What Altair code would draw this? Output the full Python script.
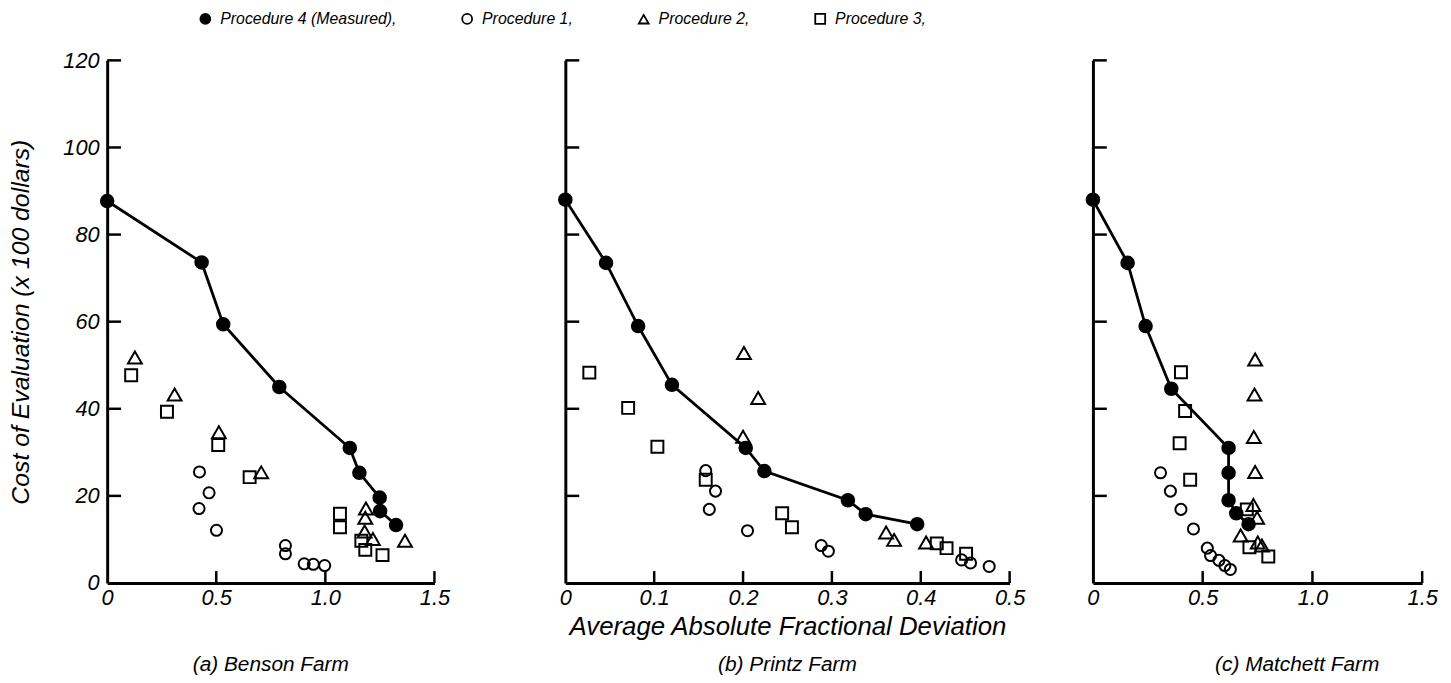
import altair as alt
import pandas as pd

PROCS = ["Procedure 4 (Measured),", "Procedure 1,", "Procedure 2,", "Procedure 3,"]
SHAPES = ["circle", "circle", "triangle-up", "square"]
FILLS = ["black", "transparent", "transparent", "transparent"]
STROKES = ["black", "black", "black", "black"]
SIZES = [160, 125, 195, 145]
FONT = "Liberation Sans, Arial, sans-serif"

# (a) Benson Farm
a_p4_x = [0.0, 0.433, 0.532, 0.789, 1.112, 1.156, 1.249, 1.251, 1.324]
a_p4_y = [87.7, 73.6, 59.4, 45.0, 31.0, 25.3, 19.6, 16.5, 13.3]
a_p1_x = [0.423, 0.467, 0.421, 0.501, 0.817, 0.817, 0.903, 0.945, 0.997]
a_p1_y = [25.5, 20.7, 17.1, 12.1, 8.6, 6.7, 4.4, 4.3, 4.0]
a_p2_x = [0.127, 0.309, 0.512, 0.706, 1.186, 1.183, 1.180, 1.218, 1.365]
a_p2_y = [51.8, 43.3, 34.6, 25.4, 17.1, 15.0, 11.8, 10.1, 9.7]
a_p3_x = [0.110, 0.274, 0.509, 0.653, 1.067, 1.067, 1.165, 1.183, 1.262]
a_p3_y = [47.7, 39.3, 31.7, 24.3, 15.9, 12.8, 9.7, 7.6, 6.4]

# (b) Printz Farm
b_p4_x = [0.0, 0.0458, 0.0819, 0.120, 0.203, 0.224, 0.318, 0.338, 0.396]
b_p4_y = [88.0, 73.5, 59.0, 45.5, 31.0, 25.7, 19.0, 15.8, 13.5]
b_p1_x = [0.158, 0.169, 0.162, 0.205, 0.288, 0.296, 0.446, 0.456, 0.477]
b_p1_y = [25.8, 21.1, 16.9, 12.0, 8.6, 7.3, 5.3, 4.6, 3.8]
b_p2_x = [0.201, 0.217, 0.200, 0.361, 0.370, 0.406]
b_p2_y = [52.8, 42.5, 33.6, 11.6, 9.9, 9.3]
b_p3_x = [0.027, 0.0707, 0.1036, 0.158, 0.244, 0.255, 0.418, 0.429, 0.451]
b_p3_y = [48.3, 40.2, 31.3, 23.7, 16.0, 12.8, 9.1, 8.0, 6.7]

# (c) Matchett Farm
c_p4_x = [0.0, 0.158, 0.240, 0.357, 0.618, 0.618, 0.618, 0.653, 0.709]
c_p4_y = [88.0, 73.5, 59.0, 44.6, 31.0, 25.3, 19.0, 16.0, 13.5]
c_p1_x = [0.308, 0.353, 0.401, 0.458, 0.521, 0.536, 0.574, 0.601, 0.626]
c_p1_y = [25.3, 21.1, 16.9, 12.4, 8.0, 6.3, 5.2, 4.0, 3.1]
c_p2_x = [0.739, 0.736, 0.733, 0.739, 0.731, 0.748, 0.673, 0.751, 0.770]
c_p2_y = [51.3, 43.3, 33.5, 25.5, 17.9, 15.0, 10.9, 9.3, 8.6]
c_p3_x = [0.401, 0.420, 0.395, 0.443, 0.701, 0.713, 0.799]
c_p3_y = [48.4, 39.5, 32.1, 23.7, 16.9, 8.2, 6.1]

Y_TICKS = [20, 40, 60, 80, 100, 120]
Y_LABELS = [0, 20, 40, 60, 80, 100, 120]
AB_TICKS = [0.5, 1.0, 1.5]
B_TICKS = [0.1, 0.2, 0.3, 0.4, 0.5]

H = 527


def frame(series):
    rows = []
    for proc, xs, ys in series:
        for i, (xv, yv) in enumerate(zip(xs, ys)):
            rows.append({"x": xv, "y": yv, "proc": proc, "i": i})
    return pd.DataFrame(rows)


LEG = alt.Legend(
    title=None, orient="none", legendX=91, legendY=-50,
    direction="horizontal", columns=4,
    labelFont=FONT, labelFontStyle="italic", labelFontSize=16, labelLimit=0,
    labelColor="black", labelOffset=7, columnPadding=62,
    symbolSize=100, symbolStrokeWidth=1.8,
)
SHAPE_SCALE = alt.Scale(domain=PROCS, range=SHAPES)
FILL_SCALE = alt.Scale(domain=PROCS, range=FILLS)
STROKE_SCALE = alt.Scale(domain=PROCS, range=STROKES)


def panel(series, xmax, xticks, width, show_ylabels, xtitle, caption, cap_dx):
    df = frame(series)
    xsc = alt.Scale(domain=[0, xmax], nice=False, zero=True)
    ysc = alt.Scale(domain=[0, 120], nice=False, zero=True)
    xaxis = alt.Axis(
        values=[0] + xticks,
        labelExpr="datum.value == 0 ? '0' : format(datum.value, '.1f')",
        title=xtitle,
        ticks=False, tickSize=0, grid=False,
        domainColor="black", domainWidth=3,
        labelFont=FONT, labelFontStyle="italic", labelFontSize=22,
        labelColor="black", labelPadding=5, labelFlush=False,
        titleFont=FONT, titleFontStyle="italic", titleFontWeight="normal",
        titleFontSize=26, titleColor="black", titlePadding=5,
    )
    if show_ylabels:
        yaxis = alt.Axis(
            values=Y_LABELS, title="Cost of Evaluation (x 100 dollars)",
            ticks=False, tickSize=0, grid=False,
            domainColor="black", domainWidth=3,
            labelFont=FONT, labelFontStyle="italic", labelFontSize=22,
            labelColor="black", labelPadding=8, labelFlush=False,
            titleFont=FONT, titleFontStyle="italic", titleFontWeight="normal",
            titleFontSize=25, titleColor="black", titlePadding=30,
        )
    else:
        yaxis = alt.Axis(
            values=Y_LABELS, title=None, labels=False,
            ticks=False, tickSize=0, grid=False,
            domainColor="black", domainWidth=3,
        )

    base = alt.Chart(df)
    line = base.transform_filter(alt.datum.proc == PROCS[0]).mark_line(
        color="black", strokeWidth=2.8
    ).encode(
        x=alt.X("x:Q", scale=xsc, axis=xaxis),
        y=alt.Y("y:Q", scale=ysc, axis=yaxis),
        order=alt.Order("i:Q"),
    )
    layers = []
    for k, proc in enumerate(PROCS):
        layers.append(
            base.transform_filter(alt.datum.proc == proc).mark_point(
                opacity=1, strokeWidth=2, size=SIZES[k]
            ).encode(
                x=alt.X("x:Q", scale=xsc, axis=xaxis),
                y=alt.Y("y:Q", scale=ysc, axis=yaxis),
                shape=alt.Shape("proc:N", scale=SHAPE_SCALE, legend=LEG),
                fill=alt.Fill("proc:N", scale=FILL_SCALE, legend=LEG),
                stroke=alt.Stroke("proc:N", scale=STROKE_SCALE, legend=LEG),
            )
        )
    yt = alt.Chart(pd.DataFrame({"v": Y_TICKS})).mark_rule(color="black", strokeWidth=2.5).encode(
        y=alt.Y("v:Q", scale=ysc, axis=yaxis), x=alt.value(0), x2=alt.value(14)
    )
    xt = alt.Chart(pd.DataFrame({"v": xticks})).mark_rule(color="black", strokeWidth=2.5).encode(
        x=alt.X("v:Q", scale=xsc, axis=xaxis), y=alt.value(H), y2=alt.value(H - 12)
    )
    title = alt.TitleParams(
        text=caption, orient="bottom", anchor="middle", frame="group",
        font=FONT, fontStyle="italic", fontWeight="normal", fontSize=21,
        color="black", offset=15, dx=cap_dx,
    )
    return alt.layer(yt, xt, line, *layers[1:], layers[0]).properties(
        width=width, height=H, title=title)


pa = panel([(PROCS[0], a_p4_x, a_p4_y), (PROCS[1], a_p1_x, a_p1_y),
            (PROCS[2], a_p2_x, a_p2_y), (PROCS[3], a_p3_x, a_p3_y)],
           1.5, AB_TICKS, 330, True, " ", "(a) Benson Farm", 0)
pb = panel([(PROCS[0], b_p4_x, b_p4_y), (PROCS[1], b_p1_x, b_p1_y),
            (PROCS[2], b_p2_x, b_p2_y), (PROCS[3], b_p3_x, b_p3_y)],
           0.5, B_TICKS, 448, False, "Average Absolute Fractional Deviation", "(b) Printz Farm", 0)
pc = panel([(PROCS[0], c_p4_x, c_p4_y), (PROCS[1], c_p1_x, c_p1_y),
            (PROCS[2], c_p2_x, c_p2_y), (PROCS[3], c_p3_x, c_p3_y)],
           1.5, AB_TICKS, 332, False, " ", "(c) Matchett Farm", 40)

inner = alt.hconcat(pa, pb, spacing=105).resolve_scale(
    x="independent", y="independent", shape="shared", fill="shared", stroke="shared")
chart = alt.hconcat(inner, pc, spacing=57).resolve_scale(
    x="independent", y="independent", shape="shared", fill="shared", stroke="shared"
).properties(
    padding={"left": 0, "top": 0, "right": 5, "bottom": 0},
    background="white",
).configure_view(stroke=None)

chart.save("out.html", embed_options={"renderer": "svg", "actions": False})
